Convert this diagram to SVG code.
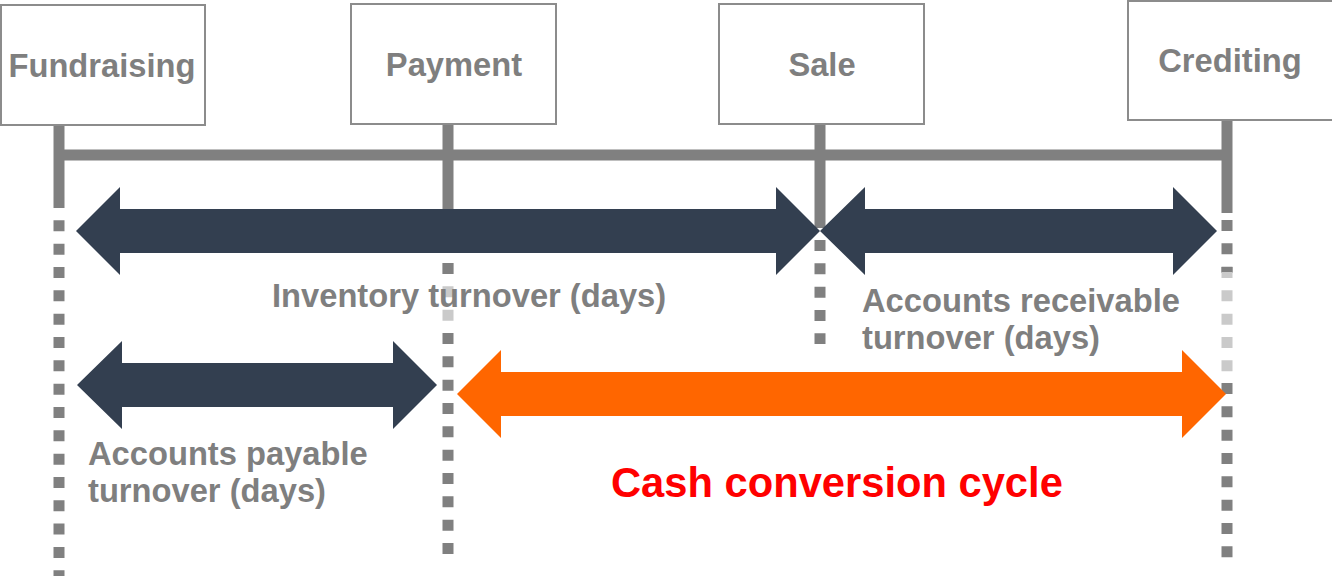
<svg xmlns="http://www.w3.org/2000/svg" width="1332" height="576" viewBox="0 0 1332 576">
  <style>
    .box { fill: #ffffff; stroke: #8c8c8c; stroke-width: 2; }
    .lbl { font-family: "Liberation Sans", Arial, sans-serif; font-weight: bold; font-size: 32.7px; fill: #7f7f7f; }
    .mid { text-anchor: middle; }
    .solid { stroke: #808080; stroke-width: 11; fill: none; }
    .dot { stroke: #808080; stroke-width: 11; fill: none; stroke-dasharray: 11 12.33; }
    .dot-faint { stroke: #cacaca; stroke-width: 11; fill: none; stroke-dasharray: 11 12.33; }
    .dark { fill: #333f50; }
    .orange { fill: #ff6600; }
    .ccc { font-family: "Liberation Sans", Arial, sans-serif; font-weight: bold; font-size: 41.7px; fill: #ff0000; }
  </style>

  <!-- timeline rails and milestone markers -->
  <g id="connectors">
    <line class="solid" x1="59" y1="155" x2="1227" y2="155"/>
    <!-- Fundraising -->
    <line class="solid" x1="59" y1="124" x2="59" y2="197"/>
    <line class="dot" x1="59" y1="197" x2="59" y2="576"/>
    <!-- Payment -->
    <line class="solid" x1="448" y1="123" x2="448" y2="230"/>
    <line class="dot-faint" x1="448" y1="263" x2="448" y2="322"/>
    <line class="dot" x1="448" y1="263" x2="448" y2="274"/>
    <line class="dot" x1="448" y1="333" x2="448" y2="556"/>
    <!-- Sale -->
    <line class="solid" x1="820" y1="123" x2="820" y2="228"/>
    <line class="dot" x1="820" y1="240" x2="820" y2="344"/>
    <!-- Crediting -->
    <line class="solid" x1="1227" y1="119" x2="1227" y2="213"/>
    <line class="dot" x1="1227" y1="220" x2="1227" y2="273"/>
    <line class="dot-faint" x1="1227" y1="267" x2="1227" y2="372"/>
    <line class="dot" x1="1227" y1="267" x2="1227" y2="272"/>
    <line class="dot" x1="1227" y1="383" x2="1227" y2="560"/>

    <!-- Inventory turnover -->
    <polygon class="dark" points="76,231 120,187 120,209 776,209 776,187 820,231 776,275 776,253 120,253 120,275"/>
    <!-- Accounts receivable turnover -->
    <polygon class="dark" points="820,231 865,187 865,209 1173,209 1173,187 1217,231 1173,275 1173,253 865,253 865,275"/>
    <!-- Accounts payable turnover -->
    <polygon class="dark" points="77,385 122,341 122,363 393,363 393,341 437,385 393,429 393,407 122,407 122,429"/>
    <!-- Cash conversion cycle -->
    <polygon class="orange" points="457,394 501,350 501,372 1182,372 1182,350 1226,394 1182,438 1182,416 501,416 501,438"/>
  </g>

  <g id="fundraising">
    <rect class="box" x="1" y="5" width="204" height="120"/>
    <text class="lbl mid" x="102" y="77">Fundraising</text>
  </g>
  <g id="payment">
    <rect class="box" x="351" y="4" width="205" height="120"/>
    <text class="lbl mid" x="454" y="76">Payment</text>
  </g>
  <g id="sale">
    <rect class="box" x="719" y="4" width="205" height="120"/>
    <text class="lbl mid" x="822" y="76">Sale</text>
  </g>
  <g id="crediting">
    <rect class="box" x="1128" y="1" width="210" height="119"/>
    <text class="lbl mid" x="1230" y="72">Crediting</text>
  </g>

  <g id="labels">
    <text class="lbl" x="272" y="307">Inventory turnover (days)</text>
    <text class="lbl" x="862" y="312">Accounts receivable</text>
    <text class="lbl" x="862" y="349">turnover (days)</text>
    <text class="lbl" x="88" y="465">Accounts payable</text>
    <text class="lbl" x="88" y="502">turnover (days)</text>
    <text class="ccc" x="611" y="497">Cash conversion cycle</text>
  </g>
</svg>
